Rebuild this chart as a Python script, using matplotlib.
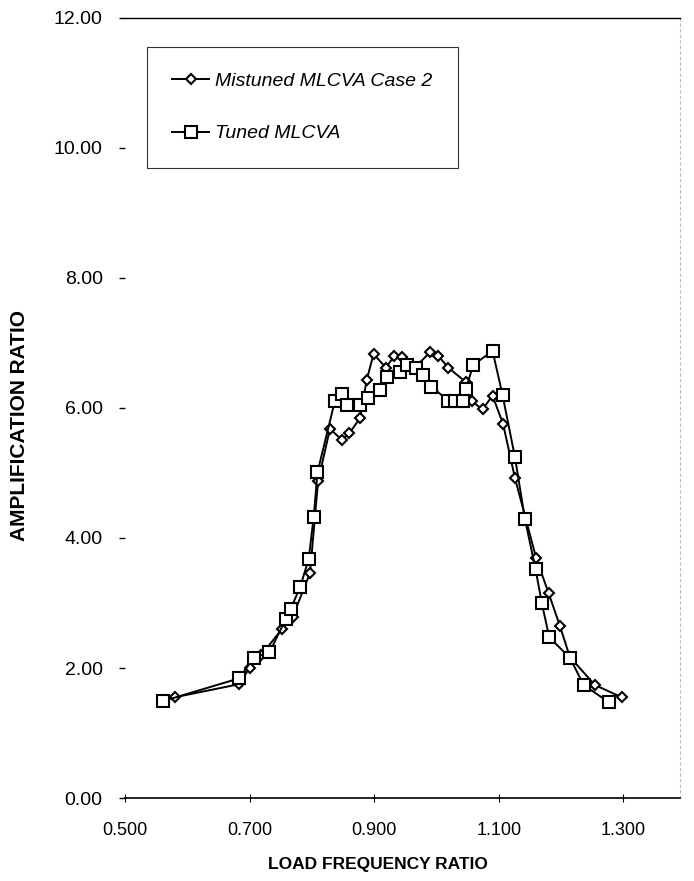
import matplotlib.pyplot as plt

plt.rcParams['font.family'] = ['Liberation Sans', 'DejaVu Sans']

# mistuned MLCVA case 2 (diamond markers)
mis_x = [0.580, 0.683, 0.700, 0.719, 0.752, 0.769, 0.797, 0.810, 0.829, 0.848,
         0.860, 0.877, 0.888, 0.899, 0.919, 0.932, 0.945, 0.965, 0.990, 1.003,
         1.019, 1.047, 1.057, 1.074, 1.090, 1.107, 1.126, 1.160, 1.180, 1.198,
         1.214, 1.254, 1.297]
mis_y = [1.55, 1.75, 2.00, 2.20, 2.60, 2.78, 3.46, 4.87, 5.68, 5.51,
         5.61, 5.84, 6.43, 6.83, 6.62, 6.80, 6.78, 6.62, 6.86, 6.80,
         6.62, 6.40, 6.10, 5.98, 6.19, 5.75, 4.92, 3.69, 3.15, 2.65,
         2.17, 1.74, 1.55]

# tuned MLCVA (square markers)
tun_x = [0.561, 0.683, 0.707, 0.732, 0.758, 0.766, 0.781, 0.795, 0.803, 0.809,
         0.837, 0.848, 0.857, 0.877, 0.890, 0.909, 0.921, 0.942, 0.952, 0.967,
         0.979, 0.992, 1.019, 1.030, 1.042, 1.047, 1.059, 1.090, 1.106, 1.126,
         1.142, 1.159, 1.169, 1.181, 1.214, 1.236, 1.277]
tun_y = [1.49, 1.84, 2.16, 2.24, 2.75, 2.91, 3.24, 3.68, 4.33, 5.01,
         6.11, 6.22, 6.05, 6.05, 6.15, 6.28, 6.47, 6.56, 6.66, 6.61,
         6.51, 6.33, 6.11, 6.10, 6.11, 6.29, 6.66, 6.88, 6.20, 5.24,
         4.29, 3.52, 3.00, 2.47, 2.16, 1.74, 1.47]

x_ticks = [0.5, 0.7, 0.9, 1.1, 1.3]
y_ticks = [0, 2, 4, 6, 8, 10, 12]

fig = plt.figure(figsize=(6.94, 8.81), dpi=100)
ax = fig.add_axes([0.180, 0.0942, 0.800, 0.8854])

ax.plot(mis_x, mis_y, color='black', lw=1.4, marker='D', ms=5.5,
        mfc='white', mec='black', mew=1.5, label='Mistuned MLCVA Case 2')
ax.plot(tun_x, tun_y, color='black', lw=1.4, marker='s', ms=8.5,
        mfc='white', mec='black', mew=1.5, label='Tuned MLCVA')

ax.set_xlim(0.5, 1.391)
ax.set_ylim(0, 12)
ax.set_xticks(x_ticks)
ax.set_xticklabels(['%.3f' % v for v in x_ticks])
ax.set_yticks(y_ticks)
ax.set_yticklabels(['%.2f' % v for v in y_ticks])
ax.tick_params(axis='x', direction='inout', length=6, width=0.8, pad=14, labelsize=13)
ax.tick_params(axis='y', direction='out', length=4, width=1.0, pad=12, labelsize=14)

ax.spines['left'].set_visible(False)
ax.spines['top'].set_linewidth(1.0)
ax.spines['bottom'].set_linewidth(1.2)
ax.spines['right'].set_color('#bbbbbb')
ax.spines['right'].set_linestyle((0, (2, 3)))

ax.set_xlabel('LOAD FREQUENCY RATIO', fontsize=12.5, fontweight='bold')
ax.set_ylabel('AMPLIFICATION RATIO', fontsize=15, fontweight='bold')
ax.xaxis.set_label_coords(0.456, -0.075)
ax.yaxis.set_label_coords(-0.172, 0.478)

leg = ax.legend(loc='upper left', bbox_to_anchor=(0.040, 0.963), frameon=True,
                fancybox=False, edgecolor='black', handlelength=1.9,
                labelspacing=1.8, borderpad=1.3, borderaxespad=0,
                handletextpad=0.3, prop={'style': 'italic', 'size': 14})
leg.get_frame().set_linewidth(0.8)

plt.savefig('out.png', dpi=100)
